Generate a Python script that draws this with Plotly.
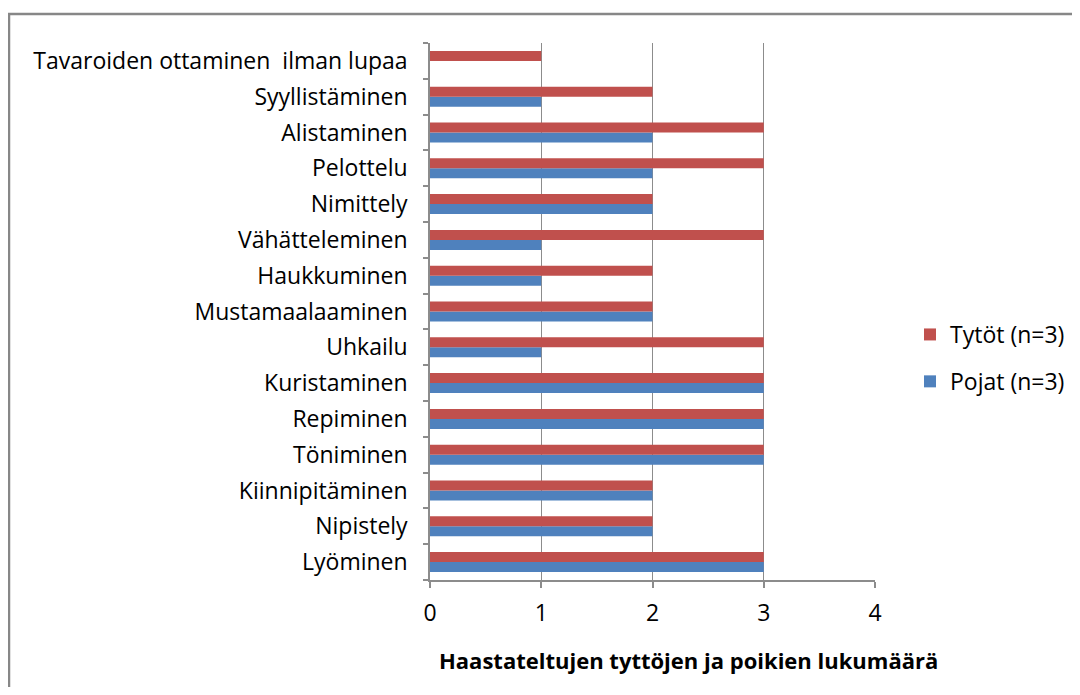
import plotly.graph_objects as go

categories = ["Lyöminen", "Nipistely", "Kiinnipitäminen", "Töniminen", "Repiminen",
              "Kuristaminen", "Uhkailu", "Mustamaalaaminen", "Haukkuminen",
              "Vähätteleminen", "Nimittely", "Pelottelu", "Alistaminen",
              "Syyllistäminen", "Tavaroiden ottaminen\u00a0 ilman lupaa"]
pojat = [3, 2, 2, 3, 3, 3, 1, 2, 1, 1, 2, 2, 2, 1, 0]
tytot = [3, 2, 2, 3, 3, 3, 3, 2, 2, 3, 2, 3, 3, 2, 1]
x_ticks = [0, 1, 2, 3, 4]

RED = "#C0504D"
BLUE = "#4F81BD"
GRID = "#8C8C8C"
FONT = "Open Sans"

fig = go.Figure()
fig.add_trace(go.Bar(y=categories, x=pojat, orientation="h", name="Pojat (n=3)",
                     legendgroup="p", legendrank=2,
                     marker=dict(color=BLUE, line=dict(width=0))))
fig.add_trace(go.Bar(y=categories, x=tytot, orientation="h", name="Tytöt (n=3)",
                     legendgroup="t", legendrank=1,
                     marker=dict(color=RED, line=dict(width=0))))

# page offset from default body margin (8px)
OFF = 8
W, H = 1080 - OFF, 695 - 2 * OFF
L = 430 - OFF
T = 43 - OFF
R = W - (875 - OFF)
B = H - (580 - OFF)
pw = W - L - R
ph = H - T - B


def px(x):
    return (x - OFF - L) / pw


def py(y):
    return (H - B - (y - OFF)) / ph


fig.update_layout(
    width=W, height=H,
    margin=dict(l=L, r=R, t=T, b=B, autoexpand=False),
    paper_bgcolor="white", plot_bgcolor="white",
    barmode="group", bargap=0.44, bargroupgap=0,
    font=dict(family=FONT, size=23, color="#000000"),
    showlegend=True,
    legend=dict(x=px(910), y=py(358), xanchor="left", yanchor="middle",
                traceorder="grouped", font=dict(size=23, family=FONT),
                itemwidth=30, tracegroupgap=14, bgcolor="rgba(0,0,0,0)"),
    xaxis=dict(range=[0, 4], tickvals=x_ticks, ticktext=[str(v) for v in x_ticks],
               showgrid=True, gridcolor=GRID, gridwidth=1, zeroline=False,
               showline=True, linecolor=GRID, linewidth=1.5,
               ticks="outside", ticklen=6, tickcolor=GRID, tickwidth=1.5,
               tickfont=dict(size=23, family=FONT), ticklabelstandoff=6),
    yaxis=dict(type="category", categoryorder="array", categoryarray=categories,
               showgrid=False, zeroline=False, showline=True, linecolor=GRID, linewidth=1.5,
               ticks="outside", ticklen=5, tickcolor=GRID, tickwidth=1.5,
               tickson="boundaries", tickfont=dict(size=23, family=FONT),
               ticklabelstandoff=16),
    annotations=[dict(text="<b>Haastateltujen tyttöjen ja poikien lukumäärä</b>",
                      x=px(688), y=py(660), xref="paper", yref="paper",
                      xanchor="center", yanchor="middle", showarrow=False,
                      font=dict(size=22, family=FONT, color="#000000"))],
    shapes=[dict(type="rect", xref="paper", yref="paper",
                 x0=px(9), x1=px(1120), y0=py(720), y1=py(14),
                 line=dict(color="#878787", width=2.5), fillcolor="rgba(0,0,0,0)",
                 layer="below")],
)

fig.write_html("out.html")
